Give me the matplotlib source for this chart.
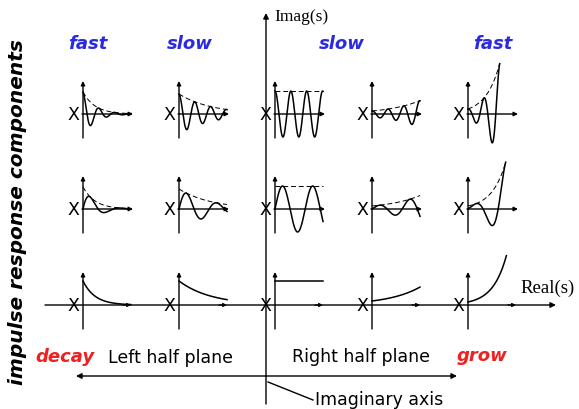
import numpy as np
import matplotlib.pyplot as plt

# pole positions along Real(s) (pixel x of the "X" marks) and row baselines
pole_x = [73, 169, 265, 362, 458]
row_y = [115, 210, 306]          # top (fast osc), middle (slow osc), bottom (real pole)
sigma = [-4.0, -1.5, 0.0, 1.5, 3.5]
t_end_top = [1.0, 1.0, 1.0, 1.0, 0.66]
t_end_mid = [1.0, 1.0, 1.0, 1.0, 0.785]
t_end_real = [1.0, 1.0, 1.0, 1.0, 0.8]
amp_top = [22, 20, 23, 3, 5]
amp_mid = [22, 20, 23, 3, 3]
amp_real = [24, 24, 24, 4, 3]
omega = [19.0, 10.0]             # top row, middle row
speed_labels = ['fast', 'slow', 'slow', 'fast']
speed_x = [88, 190, 342, 493]

W, H = 579, 410
fig = plt.figure(figsize=(W / 100, H / 100), dpi=100)
ax = fig.add_axes([0, 0, 1, 1])
ax.set_xlim(0, W)
ax.set_ylim(H, 0)
ax.axis('off')

LW = 1.0
SCALE = 48  # pixels per unit time in the small panels


def arrow(x0, y0, x1, y1, lw=LW, ms=7):
    ax.annotate('', xy=(x1, y1), xytext=(x0, y0),
                arrowprops=dict(arrowstyle='-|>', lw=lw, color='k',
                                mutation_scale=ms, shrinkA=0, shrinkB=0))


def small_axes(x0, y0, xaxis=True):
    arrow(x0, y0 + 24, x0, y0 - 33, ms=6)
    if xaxis:
        arrow(x0 - 1, y0, x0 + 50, y0, ms=6)


# main axes
arrow(45, row_y[2], 556, row_y[2], ms=8)
arrow(266, 405, 266, 14, ms=8)
ax.text(274, 17, 'Imag(s)', family='Liberation Serif', fontsize=12.5, va='center')
ax.text(520, 288, 'Real(s)', family='Liberation Serif', fontsize=13.5, va='center')

for i, px in enumerate(pole_x):
    x0 = px + 10
    rows = [(amp_top[i], t_end_top[i], np.cos), (amp_mid[i], t_end_mid[i], np.sin)]
    for r, (amp, te, fn) in enumerate(rows):
        y0 = row_y[r]
        t = np.linspace(0, te, 300)
        env = np.exp(sigma[i] * t)
        small_axes(x0, y0)
        ax.text(px, y0, 'X', fontsize=12.5, ha='center', va='center')
        y = amp * env * fn(omega[r] * t)
        ax.plot(x0 + SCALE * t, y0 - y, color='k', lw=1.1)
        ax.plot(x0 + SCALE * t, y0 - amp * env, color='k', lw=0.7,
                ls=(0, (5, 3)))
    # bottom row: real pole on the Real(s) axis
    y0 = row_y[2]
    t = np.linspace(0, t_end_real[i], 300)
    env = np.exp(sigma[i] * t)
    small_axes(x0, y0, xaxis=False)
    arrow(x0 + 40, y0, x0 + 48, y0, ms=5)
    ax.text(px, y0, 'X', fontsize=12.5, ha='center', va='center')
    ax.plot(x0 + SCALE * t, y0 - amp_real[i] * env, color='k', lw=1.1)

# speed labels
for lab, x in zip(speed_labels, speed_x):
    ax.text(x, 44, lab, color='#2a2ae0', fontsize=13, fontweight='bold',
            fontstyle='italic', ha='center', va='center')

ax.text(18, 212, 'impulse response components', rotation=90, fontsize=14.5,
        fontweight='bold', fontstyle='italic', ha='center', va='center')

# half-plane labels and bottom arrows
ax.text(65, 357, 'decay', color='#ee2020', fontsize=13, fontweight='bold',
        fontstyle='italic', ha='center', va='center')
ax.text(170, 358, 'Left half plane', fontsize=12.5, ha='center', va='center')
ax.text(361, 357, 'Right half plane', fontsize=12.5, ha='center', va='center')
ax.text(482, 356, 'grow', color='#ee2020', fontsize=13, fontweight='bold',
        fontstyle='italic', ha='center', va='center')
arrow(266, 377, 76, 377, ms=8)
arrow(266, 377, 457, 377, ms=8)
ax.plot([268, 313], [383, 401], color='k', lw=LW)
ax.text(315, 400, 'Imaginary axis', fontsize=12.5, va='center')

fig.savefig('out.png', dpi=100)
